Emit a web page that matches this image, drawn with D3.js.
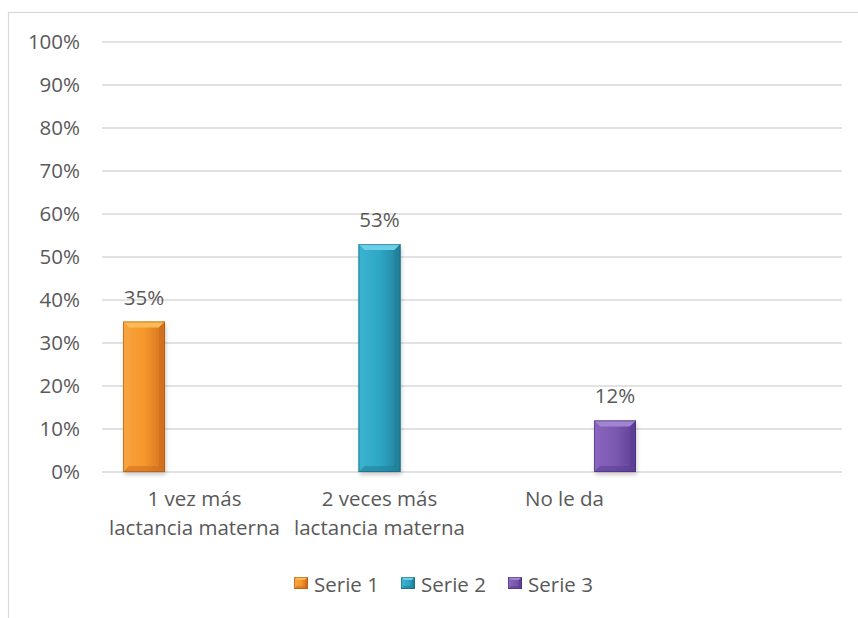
<!DOCTYPE html>
<html>
<head>
<meta charset="utf-8">
<script src="https://cdn.jsdelivr.net/npm/d3@7"></script>
<style>
  html, body { margin: 0; padding: 0; background: #fff; }
  svg { display: block; }
  text { font-family: "Open Sans", "Noto Sans", sans-serif; fill: #595959; }
</style>
</head>
<body>
<svg id="chart" width="858" height="618"></svg>
<script>
// Categories (the last one is an empty slot kept by the chart)
const categories = ["1 vez más|lactancia materna", "2 veces más|lactancia materna", "No le da", " "];
const seriesNames = ["Serie 1", "Serie 2", "Serie 3"];
const serie1 = [35, null, null, null];
const serie2 = [null, 53, null, null];
const serie3 = [null, null, 12, null];
const yTicks = [0, 10, 20, 30, 40, 50, 60, 70, 80, 90, 100];
const yTickLabels = ["0%", "10%", "20%", "30%", "40%", "50%", "60%", "70%", "80%", "90%", "100%"];

// Bevelled fill colours per series: face, light chamfer, dark edge
const palette = [
  { face: "#F7982C", light: "#FDBB55", mid: "#F6A23E", dark: "#D0701E", edge: "#9E4E10" },
  { face: "#2EA7C6", light: "#6ED0E8", mid: "#3BB2CF", dark: "#22819B", edge: "#155C70" },
  { face: "#7C5AB2", light: "#A285D0", mid: "#8765BB", dark: "#5C4094", edge: "#3F2A6C" }
];

const seriesValues = [serie1, serie2, serie3];

const svg = d3.select("#chart");
const plot = { left: 102, right: 842, top: 42, bottom: 472 };

// Outer chart frame
svg.append("rect")
  .attr("x", 8.5).attr("y", 12.5)
  .attr("width", 900).attr("height", 700)
  .attr("fill", "none").attr("stroke", "#d9d9d9").attr("stroke-width", 1.2);

const x0 = d3.scaleBand().domain(categories).range([plot.left, plot.right]).paddingInner(0).paddingOuter(0);
const x1 = d3.scaleBand().domain(seriesNames).range([0, x0.bandwidth()]).paddingInner(0.168).paddingOuter(0.416);
const y = d3.scaleLinear().domain([0, 100]).range([plot.bottom, plot.top]);

// Gridlines
svg.append("g").selectAll("line").data(yTicks).join("line")
  .attr("x1", plot.left).attr("x2", plot.right)
  .attr("y1", d => y(d)).attr("y2", d => y(d))
  .attr("stroke", "#d9d9d9").attr("stroke-width", 1.5);

// Y tick labels
svg.append("g").selectAll("text").data(yTicks).join("text")
  .attr("x", 80).attr("y", d => y(d)).attr("dy", "0.36em")
  .attr("text-anchor", "end").attr("font-size", 20.5)
  .text((d, i) => yTickLabels[i]);

// Shadow filter
const defs = svg.append("defs");
const f = defs.append("filter").attr("id", "shadow").attr("x", "-30%").attr("y", "-30%").attr("width", "160%").attr("height", "160%");
f.append("feGaussianBlur").attr("stdDeviation", 2);

palette.forEach((p, i) => {
  const g = defs.append("linearGradient").attr("id", "face" + i).attr("x1", 0).attr("x2", 1).attr("y1", 0).attr("y2", 0);
  g.append("stop").attr("offset", 0).attr("stop-color", p.mid);
  g.append("stop").attr("offset", 0.5).attr("stop-color", p.face);
  g.append("stop").attr("offset", 1).attr("stop-color", p.dark);
});

function bevel(g, x, yTop, w, h, p, i, b) {
  const yb = yTop + h;
  g.append("rect").attr("x", x).attr("y", yTop).attr("width", w).attr("height", h)
    .attr("fill", "url(#face" + i + ")");
  // top chamfer
  g.append("path").attr("d", `M${x},${yTop}L${x + w},${yTop}L${x + w - b},${yTop + b}L${x + b},${yTop + b}Z`)
    .attr("fill", p.light);
  // left side
  g.append("path").attr("d", `M${x},${yTop}L${x + b},${yTop + b}L${x + b},${yb - b}L${x},${yb}Z`)
    .attr("fill", p.mid).attr("opacity", 0.8);
  // right side
  g.append("path").attr("d", `M${x + w},${yTop}L${x + w},${yb}L${x + w - b},${yb - b}L${x + w - b},${yTop + b}Z`)
    .attr("fill", p.dark).attr("opacity", 0.85);
  // bottom
  g.append("path").attr("d", `M${x},${yb}L${x + w},${yb}L${x + w - b},${yb - b}L${x + b},${yb - b}Z`)
    .attr("fill", p.dark).attr("opacity", 0.6);
  // thin outline
  g.append("rect").attr("x", x + 0.5).attr("y", yTop + 0.5).attr("width", w - 1).attr("height", h - 1)
    .attr("fill", "none").attr("stroke", p.edge).attr("stroke-width", 1).attr("opacity", 0.5);
}

// Bars
const barsG = svg.append("g");
seriesValues.forEach((vals, si) => {
  vals.forEach((v, ci) => {
    if (v == null) return;
    const bx = x0(categories[ci]) + x1(seriesNames[si]);
    const bw = x1.bandwidth();
    const top = y(v);
    const h = y(0) - top;
    const g = barsG.append("g");
    g.append("rect").attr("x", bx + 1).attr("y", top + 3).attr("width", bw).attr("height", h)
      .attr("fill", "#000").attr("opacity", 0.2).attr("filter", "url(#shadow)");
    bevel(g, bx, top, bw, h, palette[si], si, 6);
    svg.append("text")
      .attr("x", bx + bw / 2).attr("y", top - 17)
      .attr("text-anchor", "middle").attr("font-size", 20.5)
      .text(v + "%");
  });
});

// Category labels
const catG = svg.append("g");
categories.forEach(c => {
  const lines = c.split("|");
  lines.forEach((ln, li) => {
    catG.append("text")
      .attr("x", x0(c) + x0.bandwidth() / 2)
      .attr("y", 506 + li * 29)
      .attr("text-anchor", "middle").attr("font-size", 20.5)
      .text(ln);
  });
});

// Legend
const legendX = [294, 401, 508];
const legendG = svg.append("g");
seriesNames.forEach((s, i) => {
  const lx = legendX[i];
  const g = legendG.append("g");
  bevel(g, lx, 577, 14, 12, palette[i], i, 3);
  legendG.append("text")
    .attr("x", lx + 20).attr("y", 592)
    .attr("font-size", 20.5)
    .text(s);
});
</script>
</body>
</html>
